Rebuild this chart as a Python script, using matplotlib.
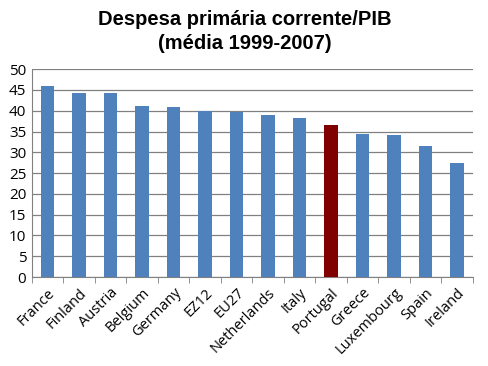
import numpy as np
import matplotlib
matplotlib.use("Agg")
from matplotlib import pyplot as plt

countries = ["France", "Finland", "Austria", "Belgium", "Germany", "EZ12", "EU27",
             "Netherlands", "Italy", "Portugal", "Greece", "Luxembourg", "Spain", "Ireland"]
values = [45.9, 44.2, 44.2, 41.1, 40.9, 39.9, 39.7, 38.9, 38.2, 36.5, 34.4, 34.1, 31.5, 27.4]
highlight = "Portugal"

plt.rcParams["font.family"] = ["Open Sans", "DejaVu Sans"]

fig = plt.figure(figsize=(4.89, 3.66), dpi=100)
ax = fig.add_axes([0.065, 0.243, 0.902, 0.568])

x = np.arange(len(countries))
colors = ["#800000" if c == highlight else "#4F81BD" for c in countries]
ax.bar(x, values, width=0.42, color=colors, zorder=3)

ax.set_ylim(0, 50)
ax.set_xlim(-0.5, len(countries) - 0.5)
ax.set_yticks(range(0, 51, 5))
ax.yaxis.grid(True, color="#808080", linewidth=0.9, zorder=0)
ax.tick_params(axis="y", labelsize=11, length=0, pad=4)

ax.set_xticks(x)
ax.set_xticklabels(countries, rotation=45, ha="right", rotation_mode="anchor", fontsize=10.5)
ax.tick_params(axis="x", length=0, pad=6)
ax.set_xticks(np.arange(-0.5, len(countries)), minor=True)
ax.tick_params(axis="x", which="minor", length=4, color="#808080")

for s in ["top", "right"]:
    ax.spines[s].set_visible(False)
for s in ["left", "bottom"]:
    ax.spines[s].set_color("#808080")

fig.text(0.5, 0.972, "Despesa primária corrente/PIB\n(média 1999-2007)", ha="center", va="top",
         fontsize=14.5, fontweight="bold", family=["Liberation Sans", "DejaVu Sans"], linespacing=1.3)

fig.savefig("out.png", dpi=100)
